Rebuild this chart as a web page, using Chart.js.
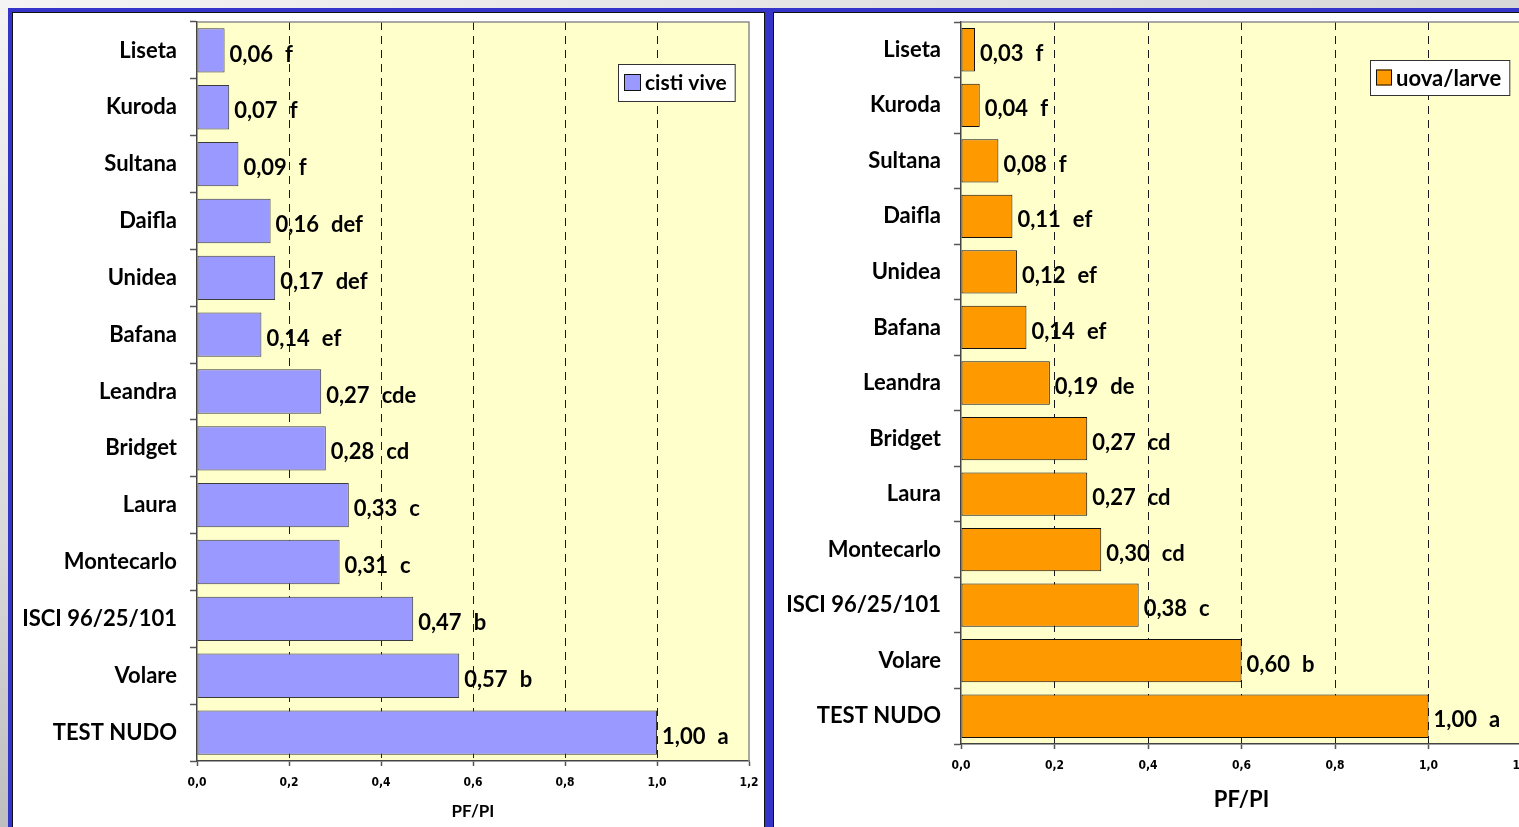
<!DOCTYPE html>
<html>
<head>
<meta charset="utf-8">
<script src="https://cdn.jsdelivr.net/npm/chart.js@4.4.1/dist/chart.umd.min.js"></script>
<style>
  html, body { margin: 0; padding: 0; }
  body {
    width: 1519px; height: 827px; overflow: hidden; position: relative;
    background: linear-gradient(160deg, #f4f4f4 0%, #d8d8d8 40%, #8a8a8a 100%);
  }
  .panel { position: absolute; top: 8px; border: 4px solid #3434c8; height: 900px; }
  .frame { border: 1px solid #111; border-bottom: none; background: #fff; height: 900px; }
  #p1 { left: 8px; }
  #p2 { left: 769px; }
  canvas { display: block; }
</style>
</head>
<body>
<div class="panel" id="p1"><div class="frame"><canvas id="chartCisti" width="751" height="814"></canvas></div></div>
<div class="panel" id="p2"><div class="frame"><canvas id="chartUova" width="800" height="814"></canvas></div></div>
<script>
const categories = ['Liseta', 'Kuroda', 'Sultana', 'Daifla', 'Unidea', 'Bafana', 'Leandra', 'Bridget', 'Laura', 'Montecarlo', 'ISCI 96/25/101', 'Volare', 'TEST NUDO'];

const cistiValues = [0.06, 0.07, 0.09, 0.16, 0.17, 0.14, 0.27, 0.28, 0.33, 0.31, 0.47, 0.57, 1.00];
const cistiLetters = ['f', 'f', 'f', 'def', 'def', 'ef', 'cde', 'cd', 'c', 'c', 'b', 'b', 'a'];

const uovaValues = [0.03, 0.04, 0.08, 0.11, 0.12, 0.14, 0.19, 0.27, 0.27, 0.30, 0.38, 0.60, 1.00];
const uovaLetters = ['f', 'f', 'f', 'ef', 'ef', 'ef', 'de', 'cd', 'cd', 'cd', 'c', 'b', 'a'];

const xTicks = [0, 0.2, 0.4, 0.6, 0.8, 1.0, 1.2];

const FONT = "Lato, 'Open Sans', sans-serif";
const NARROW = "'Liberation Sans Narrow', 'DejaVu Sans Condensed', sans-serif";

const comma = (v, d) => v.toFixed(d).replace('.', ',');

// yellow plot background and grey frame on top / right
const plotFrame = {
  id: 'plotFrame',
  beforeDraw(chart) {
    const {ctx, chartArea: a} = chart;
    ctx.save();
    ctx.fillStyle = '#ffffcc';
    ctx.fillRect(a.left, a.top, a.right - a.left, a.bottom - a.top);
    ctx.restore();
  },
  afterDraw(chart) {
    const {ctx, chartArea: a} = chart;
    ctx.save();
    ctx.strokeStyle = '#8c8c8c';
    ctx.lineWidth = 1.5;
    ctx.beginPath();
    ctx.moveTo(a.left, a.top);
    ctx.lineTo(a.right, a.top);
    ctx.lineTo(a.right, a.bottom);
    ctx.stroke();
    ctx.restore();
  }
};

// value + letters next to each bar
const barLabels = {
  id: 'barLabels',
  afterDatasetsDraw(chart, args, opts) {
    const {ctx} = chart;
    const ds = chart.data.datasets[0];
    ctx.save();
    ctx.font = opts.font;
    ctx.fillStyle = '#000';
    ctx.textBaseline = 'middle';
    ctx.textAlign = 'left';
    chart.getDatasetMeta(0).data.forEach((bar, i) => {
      const txt = comma(ds.data[i], 2);
      const x = bar.x + 5, y = bar.y + 4;
      ctx.fillText(txt, x, y);
      ctx.fillText(opts.letters[i], x + ctx.measureText(txt).width + 12, y);
    });
    ctx.restore();
  }
};

// small boxed legend inside the plot
const boxLegend = {
  id: 'boxLegend',
  afterDraw(chart, args, opts) {
    const {ctx, chartArea: a} = chart;
    const ds = chart.data.datasets[0];
    ctx.save();
    ctx.font = opts.font;
    const tw = ctx.measureText(ds.label).width;
    const x = a.left + opts.dx, y = a.top + opts.dy;
    const w = 6 + opts.swatch + 4 + tw + 8, h = opts.height;
    ctx.fillStyle = '#fff';
    ctx.fillRect(x, y, w, h);
    ctx.strokeStyle = '#333';
    ctx.lineWidth = 1;
    ctx.strokeRect(x + 0.5, y + 0.5, w, h);
    const sy = y + (h - opts.swatch) / 2;
    ctx.fillStyle = ds.backgroundColor;
    ctx.fillRect(x + 6, sy, opts.swatch, opts.swatch);
    ctx.strokeStyle = '#111';
    ctx.strokeRect(x + 6.5, sy + 0.5, opts.swatch - 1, opts.swatch - 1);
    ctx.fillStyle = '#000';
    ctx.textBaseline = 'middle';
    ctx.fillText(ds.label, x + 6 + opts.swatch + 4, y + h / 2 + 1);
    ctx.restore();
  }
};

function makeChart(id, label, values, letters, look) {
  return new Chart(document.getElementById(id), {
    type: 'bar',
    data: {
      labels: categories,
      datasets: [{
        label: label,
        data: values,
        backgroundColor: look.fill,
        borderColor: look.border,
        borderWidth: 1,
        borderSkipped: false,
        categoryPercentage: 1,
        barPercentage: 0.78
      }]
    },
    options: {
      indexAxis: 'y',
      responsive: false,
      animation: false,
      layout: { padding: { top: 9, right: look.padRight, left: 0, bottom: 0 } },
      plugins: {
        legend: { display: false },
        tooltip: { enabled: false },
        barLabels: { letters: letters, font: 'bold 22px ' + FONT },
        boxLegend: { font: 'bold ' + look.legendSize + 'px ' + FONT, dx: look.legendX, dy: look.legendY, height: look.legendH, swatch: look.swatch }
      },
      scales: {
        x: {
          type: 'linear',
          min: 0,
          max: 1.2,
          afterBuildTicks: (s) => { s.ticks = xTicks.map(v => ({ value: v })); },
          afterFit: (s) => { s.height = look.xHeight; s.paddingLeft = 0; s.paddingRight = 0; },
          ticks: {
            color: '#000',
            padding: 10,
            font: { family: NARROW, size: 12, weight: 'bold' },
            callback: (v) => comma(v, 1)
          },
          grid: {
            color: (c) => (c.tick && c.tick.value > 0.01 && c.tick.value < 1.19) ? '#1a1a1a' : 'rgba(0,0,0,0)',
            lineWidth: 1,
            tickColor: '#555',
            tickLength: 5,
            tickWidth: 1.5
          },
          border: {
            color: '#444',
            width: 1.5,
            dash: (c) => (c.tick ? [8, 6] : [])
          },
          title: {
            display: true,
            text: 'PF/PI',
            color: '#000',
            font: { family: FONT, size: look.titleSize, weight: 'bold' },
            padding: { top: 0, bottom: look.titlePad }
          }
        },
        y: {
          afterFit: (s) => { s.width = look.yWidth; s.paddingTop = 0; s.paddingBottom = 0; },
          ticks: {
            color: '#000',
            padding: 13,
            font: { family: FONT, size: 22, weight: 'bold' }
          },
          grid: {
            drawOnChartArea: false,
            tickColor: '#555',
            tickLength: 7,
            tickWidth: 1.5
          },
          border: { color: '#444', width: 1.5 }
        }
      }
    },
    plugins: [plotFrame, barLabels, boxLegend]
  });
}

makeChart('chartCisti', 'cisti vive', cistiValues, cistiLetters, {
  fill: '#9999ff', border: '#3c3c3c',
  padRight: 15, xHeight: 66, yWidth: 184,
  titleSize: 17, titlePad: 5,
  legendX: 421, legendY: 42, legendH: 37, swatch: 17, legendSize: 21
});

makeChart('chartUova', 'uova/larve', uovaValues, uovaLetters, {
  fill: '#ff9900', border: '#111111',
  padRight: 52, xHeight: 83, yWidth: 187,
  titleSize: 22, titlePad: 14,
  legendX: 409, legendY: 38, legendH: 35, swatch: 16, legendSize: 22
});
</script>
</body>
</html>
